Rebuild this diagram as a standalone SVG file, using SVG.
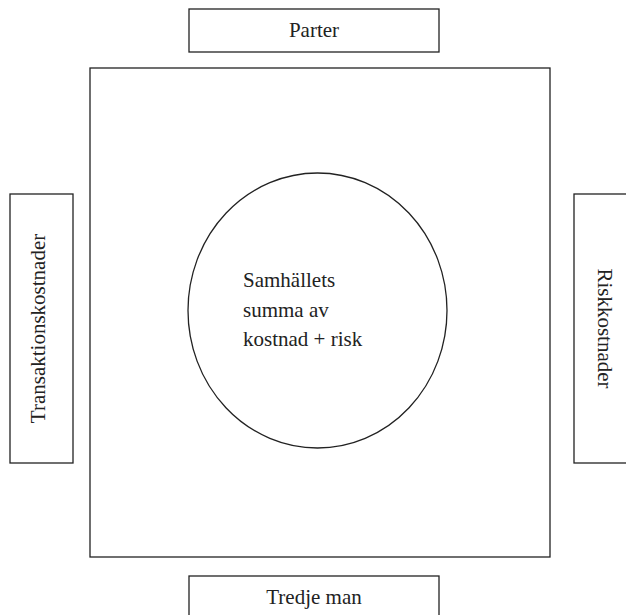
<svg xmlns="http://www.w3.org/2000/svg" width="626" height="615" viewBox="0 0 626 615">
<style>
.box{fill:#fff;stroke:#222;stroke-width:1.3}
.t{font-family:"Liberation Serif","Times New Roman",serif;font-size:21px;fill:#222}
</style>
<rect width="626" height="615" fill="#fff"/>
<g id="frame"><rect class="box" x="90" y="68" width="460" height="489"/></g>
<g id="parter"><rect class="box" x="189" y="9" width="250" height="43"/><text class="t" x="314" y="37" text-anchor="middle">Parter</text></g>
<g id="tredje"><rect class="box" x="189" y="576" width="250" height="50"/><text class="t" x="314" y="604" text-anchor="middle">Tredje man</text></g>
<g id="transaktion"><rect class="box" x="10" y="194" width="63" height="269"/><text class="t" transform="translate(45,328.5) rotate(-90)" text-anchor="middle">Transaktionskostnader</text></g>
<g id="risk"><rect class="box" x="574" y="194" width="60" height="269"/><text class="t" transform="translate(598,328.5) rotate(90)" text-anchor="middle">Riskkostnader</text></g>
<g id="samhalle"><ellipse class="box" cx="317.5" cy="310.5" rx="129.5" ry="137.5"/>
<text class="t" x="243" y="287">Samhällets</text>
<text class="t" x="243" y="316.5">summa av</text>
<text class="t" x="243" y="346">kostnad + risk</text></g>
<g id="connectors"/>
</svg>
